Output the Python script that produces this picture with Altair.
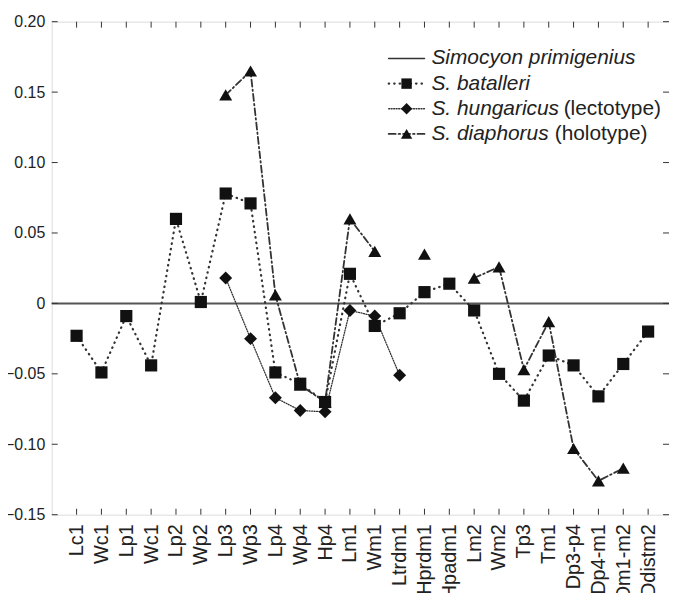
import json
import altair as alt
import pandas as pd

# ---------------- data ----------------
labels = ["Lc1", "Wc1", "Lp1", "Wc1", "Lp2", "Wp2", "Lp3", "Wp3", "Lp4", "Wp4", "Hp4",
          "Lm1", "Wm1", "Ltrdm1", "Hprdm1", "Hpadm1", "Lm2", "Wm2", "Tp3", "Tm1",
          "Dp3-p4", "Dp4-m1", "Dm1-m2", "Ddistm2"]
primigenius = 0.0
batalleri = [-0.023, -0.049, -0.009, -0.044, 0.060, 0.001, 0.078, 0.071, -0.049, -0.057,
             -0.070, 0.021, -0.016, -0.007, 0.008, 0.014, -0.005, -0.050, -0.069, -0.037,
             -0.044, -0.066, -0.043, -0.020]
hungaricus = [None, None, None, None, None, None, 0.018, -0.025, -0.067, -0.076, -0.077,
              -0.005, -0.009, -0.051, None, None, None, None, None, None, None, None, None, None]
diaphorus = [None, None, None, None, None, None, 0.148, 0.165, 0.006, -0.058, -0.070,
             0.060, 0.037, None, 0.035, None, 0.018, 0.026, -0.047, -0.013, -0.103,
             -0.126, -0.117, None]
y_ticks = [-0.15, -0.10, -0.05, 0.0, 0.05, 0.10, 0.15, 0.20]
legend_italic = ["Simocyon primigenius", "S. batalleri", "S. hungaricus", "S. diaphorus"]
legend_normal = ["", "", "(lectotype)", "(holotype)"]

# ---------------- layout ----------------
W, H = 621, 496
PAD_L, PAD_T = 44, 12
PAD_B = 585 - PAD_T - H
XMAX = 24.84
FONT = "Liberation Sans"
INK = "#222222"
LINE = "#333333"


def series_df(vals):
    rows, seg = [], 0
    prev_none = True
    for i, v in enumerate(vals):
        if v is None:
            prev_none = True
            continue
        if prev_none:
            seg += 1
        prev_none = False
        rows.append({"x": i + 1, "y": v, "seg": seg})
    return pd.DataFrame(rows)


df_b = series_df(batalleri)
df_h = series_df(hungaricus)
df_d = series_df(diaphorus)

xs = alt.Scale(domain=[0, XMAX], nice=False, zero=False)
ys = alt.Scale(domain=[-0.15, 0.20], nice=False, zero=False)

label_arr = json.dumps(labels)
x_axis = alt.Axis(values=list(range(1, len(labels) + 1)), labelExpr=f"{label_arr}[datum.value-1]",
                  labelAngle=-90, labelAlign="right", labelBaseline="middle",
                  labelFontSize=20, labelFont=FONT, labelColor=INK, labelPadding=9,
                  ticks=False, domain=False, grid=False, title=None, labelOverlap=False)
y_axis = alt.Axis(values=y_ticks,
                  labelExpr="datum.value == 0 ? '0' : format(datum.value, '.2f')",
                  labelFontSize=16, labelFont=FONT, labelColor=INK, labelPadding=7,
                  ticks=False, domain=False, grid=False, title=None)


def X(field):
    return alt.X(field, scale=xs, axis=x_axis)


def Y(field):
    return alt.Y(field, scale=ys, axis=y_axis)


zero = alt.Chart(pd.DataFrame({"y": [primigenius]})).mark_rule(
    color="#555555", strokeWidth=2).encode(y=Y("y:Q"))


def line_layer(df, dash, width):
    return alt.Chart(df).mark_line(color=LINE, strokeWidth=width, strokeDash=dash,
                                   strokeCap="round").encode(
        x=X("x:Q"), y=Y("y:Q"), detail="seg:N")


def point_layer(df, shape, size):
    return alt.Chart(df).mark_point(filled=True, shape=shape, size=size, color="#111111",
                                    opacity=1).encode(x=X("x:Q"), y=Y("y:Q"))


DASH_B = [0.5, 5]
DASH_H = [1, 1.5]
DASH_D = [7, 3, 1.5, 3]

layers = [zero,
          line_layer(df_b, DASH_B, 2.2),
          line_layer(df_h, DASH_H, 1.3),
          line_layer(df_d, DASH_D, 1.8),
          point_layer(df_b, "square", 150),
          point_layer(df_h, "diamond", 170),
          point_layer(df_d, "triangle-up", 170)]

# inward ticks on all four sides
df_yt = pd.DataFrame({"v": y_ticks})
df_xt = pd.DataFrame({"v": list(range(1, len(labels) + 1))})
TK = 6
layers += [
    alt.Chart(df_yt).mark_rule(color="#333333").encode(
        y=Y("v:Q"), x=alt.value(0), x2=alt.value(TK)),
    alt.Chart(df_yt).mark_rule(color="#333333").encode(
        y=Y("v:Q"), x=alt.value(W), x2=alt.value(W - TK)),
    alt.Chart(df_xt).mark_rule(color="#333333").encode(
        x=X("v:Q"), y=alt.value(H), y2=alt.value(H - TK)),
    alt.Chart(df_xt).mark_rule(color="#333333").encode(
        x=X("v:Q"), y=alt.value(0), y2=alt.value(TK)),
]

# legend
one = pd.DataFrame({"a": [0]})
leg_styles = [
    dict(dash=None, width=1.6, shape=None, size=0),
    dict(dash=DASH_B, width=2.2, shape="square", size=110),
    dict(dash=DASH_H, width=1.3, shape="diamond", size=130),
    dict(dash=DASH_D, width=1.8, shape="triangle-up", size=130),
]
normal_x = [0, 0, 515, 506]
for i, st in enumerate(leg_styles):
    yy = 37 + 25.3 * i
    rule_kw = dict(color=LINE, strokeWidth=st["width"], strokeCap="round")
    if st["dash"]:
        rule_kw["strokeDash"] = st["dash"]
    layers.append(alt.Chart(one).mark_rule(**rule_kw).encode(
        x=alt.value(339), x2=alt.value(375), y=alt.value(yy)))
    if st["shape"]:
        layers.append(alt.Chart(one).mark_point(filled=True, shape=st["shape"], size=st["size"],
                                                color="#111111", opacity=1).encode(
            x=alt.value(357), y=alt.value(yy)))
    layers.append(alt.Chart(one).mark_text(align="left", baseline="middle", fontSize=21,
                                           font=FONT, fontStyle="italic", color=INK).encode(
        x=alt.value(382), y=alt.value(yy), text=alt.value(legend_italic[i])))
    if legend_normal[i]:
        layers.append(alt.Chart(one).mark_text(align="left", baseline="middle", fontSize=21,
                                               font=FONT, color=INK).encode(
            x=alt.value(normal_x[i]), y=alt.value(yy), text=alt.value(legend_normal[i])))

chart = alt.layer(*layers).properties(
    width=W, height=H,
    autosize=alt.AutoSizeParams(type="none"),
    padding={"left": PAD_L, "top": PAD_T, "right": 0, "bottom": PAD_B},
).configure_view(stroke="#444444", strokeWidth=1.6).configure(background="white")

chart.save("out.html", embed_options={"renderer": "svg", "actions": False})
